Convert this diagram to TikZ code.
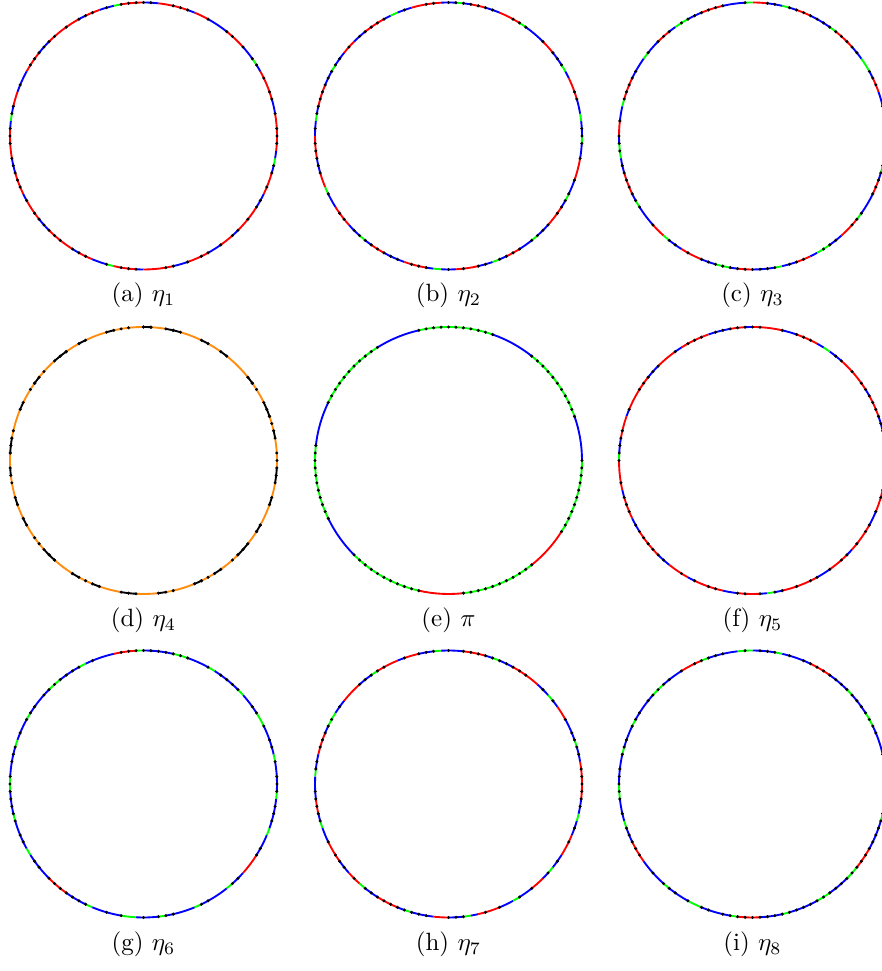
\documentclass[tikz,border=0pt]{standalone}
\definecolor{r}{rgb}{1,0,0}
\definecolor{b}{rgb}{0,0,1}
\definecolor{g}{rgb}{0,1,0}
\definecolor{G}{rgb}{0,1,0}
\definecolor{o}{rgb}{1,0.55,0.05}
\definecolor{k}{rgb}{0,0,0}
\definecolor{K}{rgb}{0,0,0}
\def\forcedG{1}
\def\forcedK{1}
\def\ringR{53.4pt}
\def\dotR{0.68pt}
\def\stepang{3.2142857}
\tikzset{
  ringline/.style={line width=0.75pt},
  lbl/.style={anchor=base,inner sep=0pt,font=\normalsize},
}
% #1 cx, #2 cy, #3 dot density (0-10), #4 seed, #5 run list colour/length
\newcommand\ringpanel[5]{%
  \gdef\ringidx{0}%
  \foreach \c/\n in {#5}{%
    \pgfmathsetmacro\aS{\ringidx*\stepang}%
    \pgfmathsetmacro\aE{(\ringidx+\n)*\stepang}%
    \draw[ringline,color=\c] ([shift={(\aS:\ringR)}]#1,#2) arc[start angle=\aS,end angle=\aE,radius=\ringR];
    \pgfmathtruncatemacro\nx{\ringidx+\n}%
    \global\let\ringidx\nx
  }%
  \gdef\ringidx{0}%
  \foreach \c/\n in {#5}{%
    \ifcsname forced\c\endcsname
      \foreach \j in {0,...,\n}{%
        \pgfmathsetmacro\aD{(\ringidx+\j)*\stepang}%
        \fill[black] ([shift={(\aD:\ringR)}]#1,#2) circle[radius=\dotR];
      }%
    \fi
    \pgfmathtruncatemacro\nx{\ringidx+\n}%
    \global\let\ringidx\nx
  }%
  \ifnum#3>0
  \foreach \i in {0,...,111}{%
    \pgfmathtruncatemacro\h{mod(mod(\i*\i,97)*7+\i*13+#4,10)}%
    \ifnum\h<#3
      \pgfmathsetmacro\aD{\i*\stepang}%
      \fill[black] ([shift={(\aD:\ringR)}]#1,#2) circle[radius=\dotR];
    \fi
  }%
  \fi
}
\begin{document}
\begin{tikzpicture}[x=0.4pt,y=0.4pt]
\useasboundingbox (0,0) rectangle (881,971);
% row 1
\ringpanel{143.5}{835}{7}{3}{r/3,b/2,r/4,b/1,g/1,b/2,r/3,b/3,r/2,b/1,r/4,b/2,r/3,g/1,b/2,r/2,b/1,r/5,b/2,r/3,b/3,r/2,b/1,g/1,b/1,r/4,b/2,r/3,b/1,r/3,b/2,r/4,b/1,r/2,b/2,g/1,r/3,b/1,r/4,b/2,r/3,b/2,r/2,b/1,r/4,b/2,r/3,b/1,g/1,b/1,r/2}
\ringpanel{448.5}{835}{7}{5}{b/2,g/1,b/2,r/3,b/1,g/1,b/2,r/2,b/3,g/1,r/3,b/2,r/2,b/1,g/1,b/2,r/4,b/2,g/1,b/1,r/3,b/2,r/2,b/2,g/1,b/2,r/3,b/1,g/1,b/2,r/3,b/2,r/2,g/1,b/2,r/3,b/2,g/1,b/1,r/2,b/3,r/3,b/1,g/1,b/2,r/3,b/2,g/1,b/1,r/2,b/2,g/1,b/2,r/3,b/1,g/1,b/2,r/3,b/2,g/1}
\ringpanel{752.5}{835}{7}{8}{b/3,g/1,b/2,r/2,b/1,g/2,b/2,r/3,g/1,b/3,r/2,b/1,g/1,b/2,r/2,g/1,b/3,r/3,b/2,g/2,b/1,r/2,b/2,g/1,b/3,r/3,g/1,b/2,r/2,b/1,g/2,b/2,r/3,b/1,g/1,b/3,r/2,g/1,b/2,r/3,b/2,g/2,b/1,r/2,b/3,g/1,b/2,r/2,b/1,g/2,b/2,r/3,g/1,b/3,r/2,b/1,g/1,b/2,r/2}
% row 2
\ringpanel{143.5}{510.5}{3}{1}{o/3,K/1,o/2,K/2,o/3,K/1,o/4,K/1,o/2,K/1,o/3,K/2,o/2,K/1,o/4,K/1,o/3,K/1,o/2,K/2,o/3,K/1,o/3,K/1,o/4,K/2,o/2,K/1,o/3,K/1,o/2,K/1,o/4,K/2,o/3,K/1,o/2,K/1,o/3,K/2,o/3,K/1,o/4,K/1,o/2,K/1,o/3,K/2,o/2,K/1,o/3,K/1,o/2,K/2,o/1}
\ringpanel{448.5}{510.5}{0}{0}{b/6,G/10,b/6,G/10,b/6,G/10,b/6,G/10,b/6,G/10,r/6,G/10,r/6,G/10}
\ringpanel{752.5}{510.5}{7}{2}{r/4,b/2,r/3,b/1,r/5,b/2,g/1,b/1,r/3,b/2,r/4,b/1,r/2,b/3,r/4,b/1,r/3,b/2,r/5,b/1,r/3,b/2,g/1,r/4,b/1,r/3,b/2,r/4,b/2,r/3,b/1,r/4,b/2,r/3,b/1,g/1,b/1,r/5,b/2,r/3,b/1,r/4,b/2,r/3,b/1,r/3}
% row 3
\ringpanel{143.5}{187}{7}{4}{b/3,g/1,b/4,g/2,b/3,g/1,b/4,g/1,b/3,g/2,b/4,g/1,r/3,b/4,g/1,b/3,g/2,b/4,g/1,b/3,g/1,b/4,g/2,b/3,g/1,b/4,g/1,b/4,r/3,b/3,g/1,b/4,g/2,b/3,g/1,b/4,g/1,b/4,g/1,b/2,r/3,b/3,g/1,b/4,g/1,b/1}
\ringpanel{448.5}{187}{7}{6}{r/3,b/2,g/1,b/3,r/2,b/1,g/1,b/2,r/4,b/2,g/1,b/1,r/3,b/3,g/1,b/2,r/2,b/1,r/3,g/1,b/2,r/3,b/2,g/2,b/1,r/3,b/2,g/1,b/3,r/2,b/1,g/1,b/2,r/3,b/2,r/2,g/1,b/2,r/3,b/1,g/1,b/3,r/2,b/2,g/1,b/1,r/3,b/2,g/1,b/2,r/2,b/1,g/1,b/2,r/3,b/2,g/1,b/2,r/2}
\ringpanel{752.5}{187}{7}{9}{b/3,g/1,b/4,g/2,b/3,g/1,b/3,r/3,b/4,g/1,b/3,g/2,b/4,g/1,r/3,b/3,g/2,b/4,g/1,b/3,g/1,b/4,g/2,b/3,g/1,b/2,r/3,b/4,g/1,b/3,g/2,b/4,g/1,r/3,b/3,g/1,b/4,g/2,b/3,g/2,r/3,b/4,g/1,b/3,g/1}
% labels
\node[lbl] (la) at (143.5,669) {(a) $\eta_1$};
\node[lbl] (lb) at (448.5,669) {(b) $\eta_2$};
\node[lbl] (lc) at (752.5,669) {(c) $\eta_3$};
\node[lbl] (ld) at (143.5,344) {(d) $\eta_4$};
\node[lbl] (le) at (448.5,344) {(e) $\pi$};
\node[lbl] (lf) at (752.5,344) {(f) $\eta_5$};
\node[lbl] (lg) at (143.5,20) {(g) $\eta_6$};
\node[lbl] (lh) at (448.5,20) {(h) $\eta_7$};
\node[lbl] (li) at (752.5,20) {(i) $\eta_8$};
\end{tikzpicture}
\end{document}
